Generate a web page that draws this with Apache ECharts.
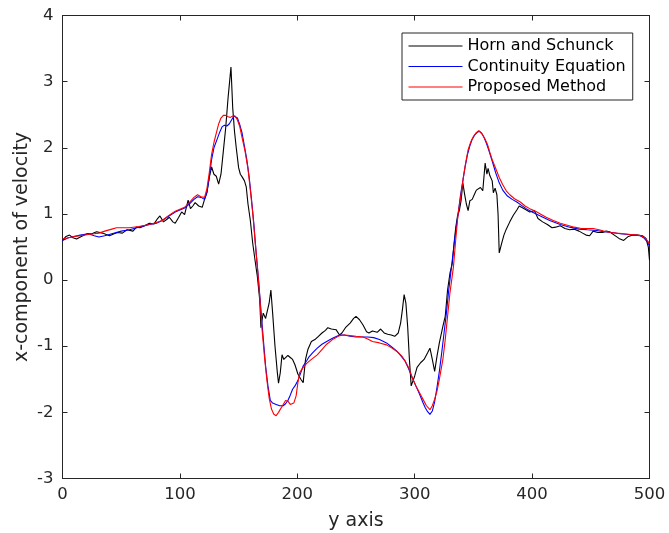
<!DOCTYPE html>
<html><head><meta charset="utf-8">
<script src="https://cdn.jsdelivr.net/npm/echarts@6/dist/echarts.min.js"></script>
<style>html,body{margin:0;padding:0;background:#fff}#c{width:669px;height:533px}</style>
</head><body><div id="c"></div>
<script>
const seriesNames = ['Horn and Schunck','Continuity Equation','Proposed Method'];
const xTicks = [0,100,200,300,400,500];
const yTicks = [-3,-2,-1,0,1,2,3,4];
const hornSchunck = [[0,0.6],[3,0.66],[6,0.68],[9,0.64],[12,0.62],[16,0.66],[21,0.7],[25,0.7],[29,0.73],[34,0.71],[40,0.67],[44,0.7],[47,0.72],[51,0.71],[55,0.76],[60,0.74],[63,0.8],[66,0.79],[70,0.82],[74,0.86],[78,0.85],[81,0.93],[83,0.97],[86,0.88],[89,0.92],[91,0.95],[94,0.88],[96,0.86],[99,0.95],[101.5,1.03],[104,0.99],[107,1.21],[109,1.08],[111,1.12],[113,1.17],[116,1.12],[119,1.1],[121,1.22],[123,1.32],[125,1.55],[127,1.71],[129,1.6],[131,1.57],[133,1.45],[135,1.6],[137,1.95],[139,2.3],[141,2.75],[143.5,3.22],[145,2.6],[146.5,2.25],[148,2.0],[150,1.7],[151.5,1.6],[153,1.56],[155,1.5],[156.5,1.41],[158,1.15],[160,0.9],[162,0.56],[164,0.3],[166,0.05],[168,-0.3],[169,-0.72],[170,-0.6],[171,-0.5],[172,-0.52],[173,-0.58],[174.5,-0.6],[176,-0.35],[177.5,-0.15],[179,-0.5],[181,-1.0],[183,-1.4],[184,-1.56],[185.5,-1.4],[187,-1.13],[188.5,-1.2],[190,-1.22],[192,-1.14],[194,-1.17],[196,-1.2],[198,-1.28],[200.5,-1.42],[203,-1.5],[205,-1.55],[207,-1.2],[209,-1.05],[212,-0.93],[215,-0.9],[218,-0.85],[221,-0.8],[224,-0.76],[226,-0.72],[229,-0.74],[233,-0.75],[236,-0.83],[238,-0.8],[241,-0.72],[245,-0.65],[248,-0.58],[250,-0.55],[253,-0.6],[256,-0.68],[259,-0.78],[261,-0.8],[264,-0.77],[268,-0.79],[271,-0.74],[274,-0.8],[277,-0.82],[280,-0.83],[283,-0.85],[286,-0.8],[288,-0.65],[289.5,-0.45],[291,-0.22],[292.5,-0.35],[294,-0.7],[295.5,-1.2],[297,-1.6],[298.5,-1.62],[300,-1.45],[302,-1.32],[305,-1.25],[308,-1.2],[311,-1.1],[313,-1.03],[315,-1.2],[317,-1.38],[319,-1.15],[321,-0.95],[324,-0.7],[326,-0.55],[328,-0.15],[330,0.1],[332,0.25],[333.5,0.55],[335,0.8],[336.5,0.97],[338,1.05],[339.5,1.2],[341,1.47],[342.5,1.3],[344,1.15],[345.5,1.05],[347,1.2],[349,1.22],[351,1.3],[352.5,1.36],[354,1.38],[356,1.4],[358,1.35],[360,1.77],[361.5,1.6],[362.5,1.69],[364,1.58],[366,1.5],[367,1.32],[368.5,1.39],[370,1.29],[371,1.0],[372,0.41],[374,0.55],[376,0.68],[378,0.77],[381,0.88],[384,0.98],[387,1.06],[389,1.12],[391,1.1],[394,1.07],[398,1.03],[402,1.05],[405,0.93],[409,0.88],[413,0.84],[417,0.79],[420,0.8],[424,0.82],[428,0.78],[432,0.76],[436,0.77],[440,0.74],[443,0.71],[446,0.68],[449,0.67],[452,0.74],[456,0.72],[460,0.72],[463,0.74],[466,0.73],[470,0.68],[474,0.63],[478,0.6],[482,0.66],[486,0.68],[490,0.68],[494,0.67],[497,0.63],[499,0.5],[500,0.3]];
const continuity = [[0,0.6],[5,0.64],[10,0.66],[15,0.68],[22,0.7],[27,0.67],[31,0.65],[36,0.67],[42,0.7],[50,0.74],[57,0.76],[65,0.8],[74,0.84],[80,0.86],[85,0.9],[90,0.96],[96,1.03],[100,1.06],[104,1.09],[108,1.15],[112,1.22],[115,1.26],[118,1.25],[121,1.22],[123,1.33],[125,1.55],[127,1.82],[129,2.0],[131.5,2.12],[134,2.24],[136,2.32],[138,2.34],[140,2.33],[142,2.36],[144,2.42],[146,2.48],[147.5,2.5],[149,2.45],[151,2.35],[153,2.22],[155,2.02],[157,1.82],[159,1.56],[161,1.22],[163,0.85],[165,0.4],[167,0.0],[169,-0.45],[171,-0.88],[173,-1.3],[175,-1.6],[177,-1.82],[179,-1.86],[182,-1.88],[185,-1.9],[188,-1.9],[190,-1.87],[192,-1.82],[194,-1.74],[196,-1.65],[198,-1.6],[200.5,-1.52],[203,-1.4],[205,-1.3],[208,-1.22],[210,-1.16],[213,-1.1],[217,-1.03],[221,-0.97],[225,-0.93],[230,-0.88],[236,-0.83],[240,-0.83],[245,-0.85],[250,-0.86],[256,-0.86],[260,-0.86],[265,-0.87],[270,-0.9],[276,-0.95],[281,-1.02],[285,-1.08],[289,-1.16],[292,-1.23],[295,-1.35],[298,-1.48],[301,-1.6],[304,-1.72],[307,-1.85],[309,-1.93],[311,-1.99],[313,-2.03],[315,-1.98],[317,-1.84],[319,-1.62],[321,-1.38],[323,-1.1],[325,-0.8],[327,-0.5],[329,-0.15],[331,0.15],[333,0.45],[335,0.75],[337,1.0],[339,1.28],[341,1.5],[343,1.72],[345,1.9],[347,2.03],[349,2.13],[351,2.19],[353,2.23],[355,2.25],[357,2.22],[359,2.16],[361,2.07],[363,1.97],[366,1.8],[369,1.62],[372,1.47],[375,1.36],[379,1.27],[383,1.22],[387,1.18],[391,1.13],[395,1.08],[400,1.03],[407,0.97],[415,0.9],[424,0.84],[432,0.8],[440,0.77],[447,0.76],[455,0.75],[461,0.73],[468,0.72],[475,0.7],[482,0.69],[488,0.68],[492,0.67],[495,0.64],[498,0.58],[500,0.52]];
const proposed = [[0,0.62],[5,0.64],[10,0.66],[15,0.67],[22,0.69],[27,0.7],[31,0.71],[36,0.74],[42,0.77],[46,0.79],[52,0.79],[57,0.79],[65,0.81],[74,0.84],[80,0.87],[85,0.9],[90,0.97],[96,1.04],[100,1.07],[104,1.1],[108,1.17],[112,1.25],[115,1.29],[118,1.26],[121,1.25],[123,1.38],[125,1.62],[127,1.9],[129,2.08],[131,2.22],[133,2.36],[135,2.45],[137,2.49],[139,2.49],[141,2.47],[143,2.46],[145,2.48],[147,2.48],[149,2.42],[151,2.32],[153,2.15],[155.5,1.95],[158,1.68],[160,1.36],[162,1.02],[164,0.6],[166,0.2],[168,-0.25],[170,-0.75],[172,-1.15],[174,-1.5],[176,-1.78],[178,-1.95],[180,-2.03],[182,-2.05],[184,-2.0],[186,-1.94],[188,-1.88],[190,-1.82],[192,-1.83],[194,-1.88],[195.5,-1.9],[197,-1.86],[199,-1.75],[200.5,-1.55],[202,-1.4],[205,-1.32],[208,-1.26],[212,-1.2],[217,-1.13],[221,-1.05],[225,-0.97],[230,-0.9],[236,-0.84],[240,-0.83],[245,-0.84],[250,-0.85],[256,-0.86],[260,-0.89],[264,-0.93],[270,-0.95],[276,-0.98],[281,-1.03],[285,-1.08],[289,-1.15],[292,-1.23],[295,-1.33],[298,-1.48],[301,-1.6],[304,-1.7],[307,-1.8],[310,-1.9],[313,-1.96],[315,-1.9],[317,-1.8],[319,-1.68],[321,-1.5],[324,-1.2],[326,-0.9],[328,-0.55],[330,-0.2],[333,0.2],[335,0.62],[337,1.01],[339.5,1.3],[341.5,1.56],[343.5,1.78],[345.5,1.97],[348,2.1],[350,2.17],[352,2.22],[354.5,2.26],[357,2.22],[360,2.13],[362,2.05],[364,1.93],[366,1.82],[368.5,1.71],[372,1.55],[375,1.44],[378,1.35],[381,1.29],[385,1.23],[390,1.18],[394,1.12],[398,1.08],[403,1.04],[407,1.0],[412,0.95],[418,0.9],[424,0.86],[430,0.83],[436,0.8],[442,0.78],[447,0.78],[452,0.78],[457,0.76],[461,0.74],[467,0.72],[472,0.71],[478,0.7],[484,0.69],[490,0.68],[493,0.67],[496,0.64],[498,0.6],[500,0.55]];

const font = 'DejaVu Sans';
const axisCol = '#262626';
const chart = echarts.init(document.getElementById('c'), null, {renderer:'canvas'});
function xAx(pos, show){
  return {type:'value', position:pos, min:xTicks[0], max:xTicks[xTicks.length-1], interval:100,
    axisLine:{show:true, onZero:false, lineStyle:{color:axisCol, width:1}},
    axisTick:{show:true, inside:true, length:5, lineStyle:{color:axisCol}},
    axisLabel:{show:show, color:axisCol, fontFamily:font, fontSize:16.5, margin:8},
    splitLine:{show:false},
    name: show ? 'y axis' : '', nameLocation:'middle', nameGap:33,
    nameTextStyle:{color:axisCol, fontFamily:font, fontSize:19}};
}
function yAx(pos, show){
  return {type:'value', position:pos, min:yTicks[0], max:yTicks[yTicks.length-1], interval:1,
    axisLine:{show:true, onZero:false, lineStyle:{color:axisCol, width:1}},
    axisTick:{show:true, inside:true, length:5, lineStyle:{color:axisCol}},
    axisLabel:{show:show, color:axisCol, fontFamily:font, fontSize:16.5, margin:9},
    splitLine:{show:false},
    name: show ? 'x-component of velocity' : '', nameLocation:'middle', nameGap:31, nameMoveOverlap:false,
    nameTextStyle:{color:axisCol, fontFamily:font, fontSize:19}};
}
const colors = ['#000000','#0000ff','#ff0000'];
const datasets = [hornSchunck, continuity, proposed];
chart.setOption({
  animation:false,
  backgroundColor:'#fff',
  grid:{left:62.5, right:19.5, top:15.5, bottom:54.5, containLabel:false, outerBoundsMode:'none'},
  xAxis:[xAx('bottom', true), xAx('top', false)],
  yAxis:[yAx('left', true), yAx('right', false)],
  legend:{
    orient:'vertical', left:402, top:33,
    backgroundColor:'#fff', borderColor:'#262626', borderWidth:1,
    padding:[5,7,5,6], itemGap:4.5, itemWidth:54, itemHeight:14,
    itemStyle:{opacity:0}, lineStyle:{width:1},
    textStyle:{color:'#000', fontFamily:font, fontSize:16},
    data: seriesNames
  },
  series: datasets.map((d,i)=>({
    name: seriesNames[i], type:'line', data:d, xAxisIndex:0, yAxisIndex:0,
    showSymbol:false, symbol:'none', smooth:false,
    lineStyle:{color:colors[i], width:1.1}, itemStyle:{color:colors[i]},
    z: 2+i
  }))
});
</script></body></html>
